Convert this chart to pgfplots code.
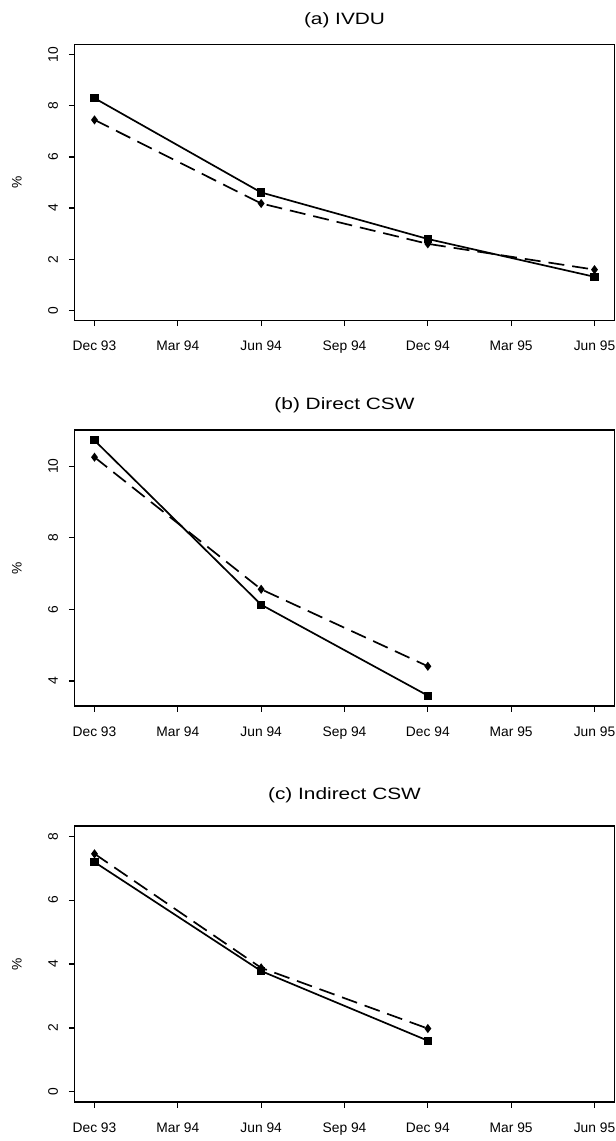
\documentclass[border=0pt]{standalone}
\usepackage{fontspec}
\setmainfont{Liberation Sans}
\newfontfamily\titlefont[FakeStretch=1.27]{Liberation Sans}
\usepackage{pgfplots}
\pgfplotsset{compat=1.18}

\pgfplotsset{
  panel/.style={
    scale only axis, width=270pt, height=138pt,
    anchor=north west,
    xmin=-0.72, xmax=18.72,
    xtick={0,3,...,18},
    xticklabels={Dec 93,Mar 94,Jun 94,Sep 94,Dec 94,Mar 95,Jun 95},
    xtick pos=left, ytick pos=left,
    tick align=outside, major tick length=2.75pt,
    every tick/.style={black, line width=0.6pt},
    axis line style={line width=0.75pt},
    ticklabel style={font=\fontsize{6.9}{8}\selectfont},
    /pgf/number format/assume math mode=true,
    xticklabel shift=4pt,
    yticklabel style={rotate=90, anchor=south},
    yticklabel shift=2pt,
    ylabel={\%},
    ylabel style={at={(axis description cs:-0.1065,0.5)}, anchor=center,
      font=\fontsize{6.9}{8}\selectfont},
    title style={font=\titlefont\fontsize{8.2}{10}\selectfont, anchor=center, at={(0.5,1)}},
  },
  solidser/.style={black, line width=0.85pt, mark=square*, mark size=1.6pt,
    mark options={solid}},
  dashser/.style={black, line width=0.85pt, dash pattern=on 8pt off 4pt,
    mark=diamond*, mark size=1.6pt, mark options={solid}},
}

\begin{document}
\begin{tikzpicture}
\path[use as bounding box] (0,0) rectangle (308pt,-570.5pt);

% (a) IVDU
\begin{axis}[panel, at={(37.25pt,-22.25pt)},
  ymin=-0.4, ymax=10.4, ytick={0,2,...,10},
  title={(a) IVDU}, title style={yshift=6pt}]
\addplot[solidser] coordinates {(0,8.30) (6,4.61) (12,2.79) (18,1.31)};
\addplot[dashser] coordinates {(0,7.45) (6,4.18) (12,2.60) (18,1.59)};
\end{axis}

% (b) Direct CSW
\begin{axis}[panel, at={(37.25pt,-215pt)},
  ymin=3.30, ymax=11.01, ytick={4,6,8,10},
  title={(b) Direct CSW}, title style={yshift=6.5pt}]
\addplot[solidser] coordinates {(0,10.72) (6,6.13) (12,3.59)};
\addplot[dashser] coordinates {(0,10.25) (6,6.56) (12,4.41)};
\end{axis}

% (c) Indirect CSW
\begin{axis}[panel, at={(37.25pt,-413pt)},
  ymin=-0.32, ymax=8.32, ytick={0,2,...,8},
  title={(c) Indirect CSW}, title style={yshift=9.5pt}]
\addplot[solidser] coordinates {(0,7.19) (6,3.78) (12,1.60)};
\addplot[dashser] coordinates {(0,7.45) (6,3.88) (12,1.98)};
\end{axis}
\end{tikzpicture}
\end{document}
